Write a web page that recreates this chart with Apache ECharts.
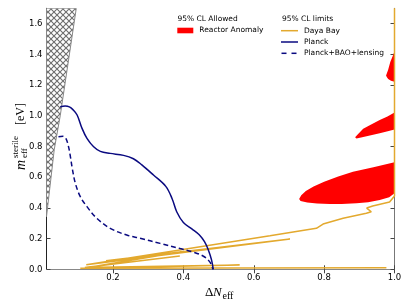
<!DOCTYPE html>
<html><head><meta charset="utf-8">
<script src="https://cdn.jsdelivr.net/npm/echarts@6/dist/echarts.min.js"></script>
<style>html,body{margin:0;padding:0;background:#fff}#c{width:411px;height:308px}</style>
</head><body><div id="c"></div>
<script>
// ---- data ----
const xTicks = [0.2, 0.4, 0.6, 0.8, 1.0];
const yTicks = [0, 0.2, 0.4, 0.6, 0.8, 1.0, 1.2, 1.4, 1.6];
const xRange = [0.011, 1.0];
const yRange = [0, 1.7];

const planck = [[0.050,1.059],[0.064,1.063],[0.076,1.058],[0.086,1.040],[0.098,1.005],[0.112,0.918],[0.126,0.853],[0.145,0.798],[0.164,0.768],[0.192,0.755],[0.230,0.742],[0.258,0.720],[0.282,0.680],[0.315,0.614],[0.350,0.540],[0.368,0.460],[0.381,0.375],[0.400,0.305],[0.425,0.262],[0.445,0.225],[0.460,0.180],[0.471,0.126],[0.480,0.061],[0.485,0.0]];

const planckBAO = [[0.045,0.863],[0.058,0.866],[0.066,0.852],[0.073,0.805],[0.079,0.733],[0.084,0.660],[0.093,0.560],[0.107,0.473],[0.126,0.408],[0.154,0.332],[0.192,0.267],[0.239,0.223],[0.277,0.202],[0.334,0.169],[0.391,0.135],[0.428,0.112],[0.457,0.085],[0.476,0.045],[0.484,0.0]];

const dayaBay = [[1.0,1.7],[1.0,0.477],[0.995,0.464],[0.986,0.438],[0.938,0.412],[0.921,0.399],[0.934,0.375],[0.920,0.365],[0.854,0.332],[0.797,0.295],[0.778,0.267],[0.646,0.218],[0.124,0.030],[0.703,0.197],[0.18,0.055],[0.395,0.114],[0.15,0.020],[0.39,0.087],[0.12,0.012],[0.56,0.028],[0.107,0.007],[0.977,0.010]];

const excluded = [[0.011,1.7],[0.0956,1.7],[0.050,1.0],[0.033,0.78],[0.011,0.343]];

const reactorA = [[0.733,0.445],[0.729,0.458],[0.735,0.482],[0.748,0.510],[0.770,0.540],[0.800,0.570],[0.840,0.605],[0.882,0.635],[0.940,0.665],[1.0,0.697],[1.0,0.495],[0.985,0.470],[0.958,0.451],[0.925,0.437],[0.892,0.430],[0.850,0.426],[0.816,0.425],[0.780,0.428],[0.752,0.435]];
const reactorB = [[0.892,0.852],[0.888,0.860],[0.896,0.880],[0.911,0.915],[0.935,0.945],[0.958,0.972],[0.980,0.995],[1.0,1.022],[1.0,0.911],[0.978,0.897],[0.958,0.886],[0.930,0.872],[0.905,0.858]];
const reactorC = [[0.978,1.252],[0.976,1.262],[0.982,1.300],[0.988,1.350],[0.995,1.390],[1.0,1.420],[1.0,1.221],[0.990,1.228],[0.982,1.240]];

// ---- styles ----
const orange = '#E3A92E', navy = '#0A0A80', red = '#FF0000';

function hatchPattern() {
  const s = 6, c = document.createElement('canvas');
  c.width = s; c.height = s;
  const g = c.getContext('2d');
  g.fillStyle = '#fff'; g.fillRect(0, 0, s, s);
  g.strokeStyle = '#6e6e6e'; g.lineWidth = 1.1;
  g.beginPath();
  g.moveTo(-1, -1); g.lineTo(s + 1, s + 1);
  g.moveTo(s + 1, -1); g.lineTo(-1, s + 1);
  g.stroke();
  return c;
}

function polySeries(points, style, z) {
  return {
    type: 'custom', coordinateSystem: 'cartesian2d', clip: true, z: z, silent: true,
    data: [points[0]],
    renderItem: function (params, api) {
      return { type: 'polygon', shape: { points: points.map(p => api.coord(p)) }, style: style };
    }
  };
}
function lineSeries(data, color, type, z, smooth) {
  return { type: 'line', data: data, symbol: 'none', z: z, clip: true, silent: true, smooth: smooth || false,
    lineStyle: { color: color, width: 1.5, type: type }, animation: false };
}

const chart = echarts.init(document.getElementById('c'), null, { renderer: 'canvas' });
const axFont = { fontSize: 8.5, fontFamily: 'DejaVu Sans', color: '#000' };
const serif = '"Liberation Serif", "DejaVu Serif", serif';

chart.setOption({
  animation: false,
  backgroundColor: '#fff',
  grid: { left: 46.5, right: 16.5, top: 8.3, bottom: 38.7 },
  xAxis: [
    { type: 'value', min: xRange[0], max: xRange[1], position: 'bottom',
      axisLine: { lineStyle: { color: '#666', width: 1 } },
      axisTick: { inside: true, length: 4, customValues: xTicks, lineStyle: { color: '#444' } },
      axisLabel: Object.assign({ customValues: xTicks, formatter: v => v.toFixed(1), margin: 4 }, axFont),
      splitLine: { show: false } },
    { type: 'value', min: xRange[0], max: xRange[1], position: 'top',
      axisLine: { lineStyle: { color: '#888', width: 1 } },
      axisTick: { inside: true, length: 4, customValues: xTicks, lineStyle: { color: '#444' } },
      axisLabel: { show: false }, splitLine: { show: false } }
  ],
  yAxis: [
    { type: 'value', min: yRange[0], max: yRange[1], position: 'left',
      axisLine: { lineStyle: { color: '#222', width: 1 } },
      axisTick: { inside: true, length: 4, customValues: yTicks, lineStyle: { color: '#444' } },
      axisLabel: Object.assign({ customValues: yTicks, formatter: v => v.toFixed(1), margin: 4 }, axFont),
      splitLine: { show: false } },
    { type: 'value', min: yRange[0], max: yRange[1], position: 'right',
      axisLine: { lineStyle: { color: '#777', width: 1 } },
      axisTick: { inside: true, length: 4, customValues: yTicks, lineStyle: { color: '#444' } },
      axisLabel: { show: false }, splitLine: { show: false } }
  ],
  series: [
    polySeries(excluded, { fill: { image: hatchPattern(), repeat: 'repeat' }, stroke: '#888', lineWidth: 1 }, 1),
    polySeries(reactorA, { fill: red }, 2),
    polySeries(reactorB, { fill: red }, 2),
    polySeries(reactorC, { fill: red }, 2),
    lineSeries(dayaBay, orange, 'solid', 3),
    lineSeries(planck, navy, 'solid', 4, 0.35),
    lineSeries(planckBAO, navy, [5, 3], 4, 0.35)
  ],
  graphic: [
    { type: 'text', x: 177.5, y: 19, style: { text: '95% CL Allowed', font: '7.5px "DejaVu Sans"', fill: '#000', verticalAlign: 'middle' } },
    { type: 'rect', shape: { x: 177.3, y: 27.7, width: 16, height: 5.6 }, style: { fill: red } },
    { type: 'text', x: 199.3, y: 30.5, style: { text: 'Reactor Anomaly', font: '7.5px "DejaVu Sans"', fill: '#000', verticalAlign: 'middle' } },
    { type: 'text', x: 282, y: 19, style: { text: '95% CL limits', font: '7.5px "DejaVu Sans"', fill: '#000', verticalAlign: 'middle' } },
    { type: 'line', shape: { x1: 281, y1: 30.7, x2: 298, y2: 30.7 }, style: { stroke: orange, lineWidth: 1.5 } },
    { type: 'text', x: 304, y: 30.7, style: { text: 'Daya Bay', font: '7.5px "DejaVu Sans"', fill: '#000', verticalAlign: 'middle' } },
    { type: 'line', shape: { x1: 281, y1: 42, x2: 298, y2: 42 }, style: { stroke: navy, lineWidth: 1.5 } },
    { type: 'text', x: 304, y: 42, style: { text: 'Planck', font: '7.5px "DejaVu Sans"', fill: '#000', verticalAlign: 'middle' } },
    { type: 'line', shape: { x1: 281.5, y1: 53.3, x2: 297, y2: 53.3 }, style: { stroke: navy, lineWidth: 1.5, lineDash: [5, 5] } },
    { type: 'text', x: 304, y: 53.3, style: { text: 'Planck+BAO+lensing', font: '7.5px "DejaVu Sans"', fill: '#000', verticalAlign: 'middle' } },
    // x axis name
    { type: 'text', x: 205, y: 292.5, style: { text: 'Δ', font: '13px ' + serif, fill: '#000', verticalAlign: 'middle' } },
    { type: 'text', x: 213, y: 292.5, style: { text: 'N', font: 'italic 13px ' + serif, fill: '#000', verticalAlign: 'middle' } },
    { type: 'text', x: 222.5, y: 296, style: { text: 'eff', font: '10px ' + serif, fill: '#000', verticalAlign: 'middle' } },
    // y axis name (rotated)
    { type: 'group', x: 21, y: 170, rotation: Math.PI / 2, children: [
      { type: 'text', x: 0, y: 0, style: { text: 'm', font: 'italic 14px ' + serif, fill: '#000', verticalAlign: 'middle' } },
      { type: 'text', x: 12, y: -5, style: { text: 'sterile', font: '9px ' + serif, fill: '#000', verticalAlign: 'middle' } },
      { type: 'text', x: 12, y: 4, style: { text: 'eff', font: '9px ' + serif, fill: '#000', verticalAlign: 'middle' } },
      { type: 'text', x: 45, y: 0, style: { text: '[eV]', font: '12px ' + serif, fill: '#000', verticalAlign: 'middle' } }
    ] }
  ]
});
</script>
</body></html>
